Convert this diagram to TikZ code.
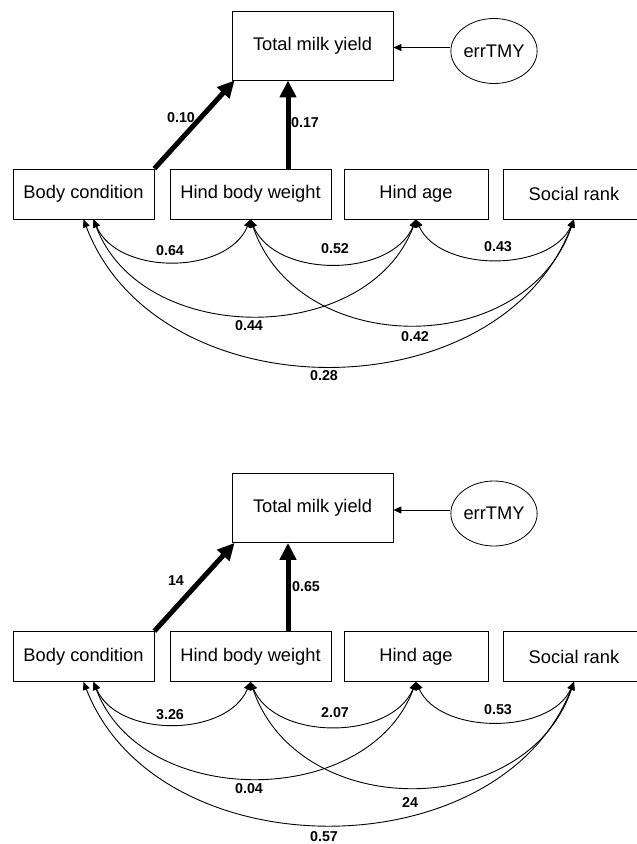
\documentclass[tikz,border=0pt]{standalone}
\usepackage{fontspec}
\setmainfont{Liberation Sans}
\usetikzlibrary{arrows.meta,shapes.geometric}
\begin{document}
\begin{tikzpicture}[x=1pt,y=-1pt,
  box/.style={draw, line width=0.8pt, minimum height=50pt, inner sep=0pt,
    font=\fontsize{18.3}{20}\selectfont},
  errc/.style={draw, ellipse, line width=0.8pt, minimum width=74pt, minimum height=65pt,
    inner sep=0pt, font=\fontsize{18.3}{20}\selectfont},
  path/.style={line width=5pt, -{Triangle[length=17pt,width=16pt]}},
  resid/.style={line width=0.9pt, -{Triangle[length=8pt,width=7pt]}},
  cov/.style={line width=0.9pt, {Triangle[length=8pt,width=7pt]}-{Triangle[length=8pt,width=7pt]}},
  num/.style={font=\fontsize{14.3}{16}\selectfont\bfseries, inner sep=0pt}
]
\useasboundingbox (0,0) rectangle (637,844);
\clip (0,0) rectangle (637,844);

% ---------------- top panel ----------------
\node[box, minimum width=161pt, minimum height=69pt] (ttmy) at (312.5,45.5) {Total milk yield};
\node[errc] (terr) at (494,51) {errTMY};
\node[box, minimum width=141pt] (tbc) at (83.5,194) {Body condition};
\node[box, minimum width=161pt] (thbw) at (250.5,194) {Hind body weight};
\node[box, minimum width=144pt] (tha) at (416,194) {Hind age};
\node[box, minimum width=142pt] (tsr) at (574,194) {Social rank};

\coordinate (tr) at ([yshift=3.5pt]terr.west);
\draw[resid] (tr) -- (tr -| ttmy.east);
\draw[path] (tbc.north east) -- ([xshift=3pt]ttmy.south west);
\coordinate (tv) at ([xshift=37.5pt]thbw.north);
\draw[path] (tv) -- (tv |- ttmy.south);

\draw[cov] ([xshift=10pt]tbc.south) .. controls +(24,56) and +(-24,56) .. (thbw.south);
\draw[cov] (thbw.south) .. controls +(25,59) and +(-25,59) .. (tha.south);
\draw[cov] (tha.south) .. controls +(24,53) and +(-24,53) .. (tsr.south);
\draw[cov] ([xshift=10pt]tbc.south) .. controls +(48,128) and +(-48,128) .. (tha.south);
\draw[cov] (thbw.south) .. controls +(48,140) and +(-48,140) .. (tsr.south);
\draw[cov] (tbc.south) .. controls +(74,195) and +(-74,195) .. (tsr.south);

\node[num] (tl1) at (181,118) {0.10};
\node[num] (tl2) at (305,123) {0.17};
\node[num] (tl3) at (170,251) {0.64};
\node[num] (tl4) at (335,249) {0.52};
\node[num] (tl5) at (498,247) {0.43};
\node[num] (tl6) at (249,326) {0.44};
\node[num] (tl7) at (415,337) {0.42};
\node[num] (tl8) at (324,376) {0.28};

% ---------------- bottom panel ----------------
\begin{scope}[shift={(0,462.5)}]
\node[box, minimum width=161pt, minimum height=69pt] (btmy) at (312.5,45.5) {Total milk yield};
\node[errc] (berr) at (494,51) {errTMY};
\node[box, minimum width=141pt] (bbc) at (83.5,194) {Body condition};
\node[box, minimum width=161pt] (bhbw) at (250.5,194) {Hind body weight};
\node[box, minimum width=144pt] (bha) at (416,194) {Hind age};
\node[box, minimum width=142pt] (bsr) at (574,194) {Social rank};

\coordinate (br) at ([yshift=3.5pt]berr.west);
\draw[resid] (br) -- (br -| btmy.east);
\draw[path] (bbc.north east) -- ([xshift=3pt]btmy.south west);
\coordinate (bv) at ([xshift=37.5pt]bhbw.north);
\draw[path] (bv) -- (bv |- btmy.south);

\draw[cov] ([xshift=10pt]bbc.south) .. controls +(24,56) and +(-24,56) .. (bhbw.south);
\draw[cov] (bhbw.south) .. controls +(25,59) and +(-25,59) .. (bha.south);
\draw[cov] (bha.south) .. controls +(24,53) and +(-24,53) .. (bsr.south);
\draw[cov] ([xshift=10pt]bbc.south) .. controls +(48,128) and +(-48,128) .. (bha.south);
\draw[cov] (bhbw.south) .. controls +(48,140) and +(-48,140) .. (bsr.south);
\draw[cov] (bbc.south) .. controls +(74,190) and +(-74,190) .. (bsr.south);

\node[num] (bl1) at (176,118.5) {14};
\node[num] (bl2) at (306,124.5) {0.65};
\node[num] (bl3) at (170,252.5) {3.26};
\node[num] (bl4) at (335,250.5) {2.07};
\node[num] (bl5) at (498,247.5) {0.53};
\node[num] (bl6) at (249,326.5) {0.04};
\node[num] (bl7) at (410,339.5) {24};
\node[num] (bl8) at (324,374.5) {0.57};
\end{scope}
\end{tikzpicture}
\end{document}
